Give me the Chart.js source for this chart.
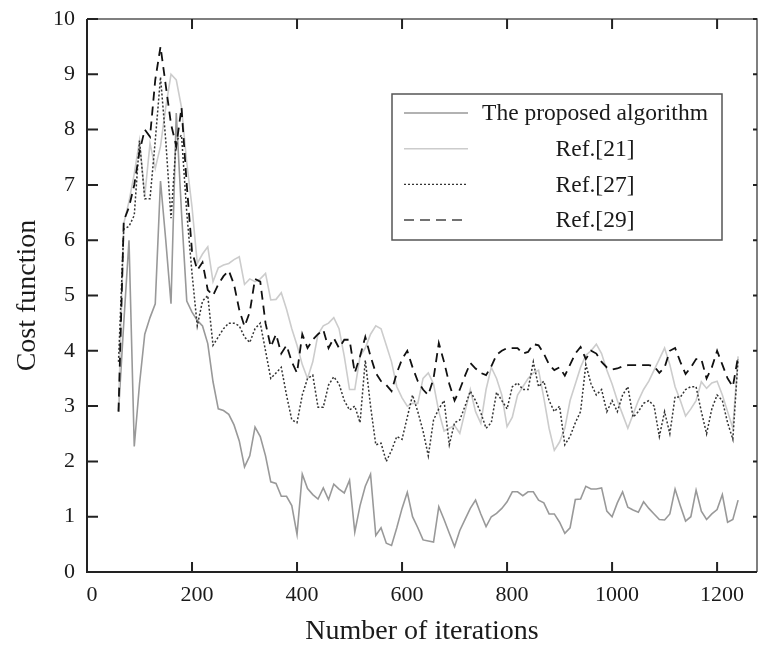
<!DOCTYPE html>
<html>
<head>
<meta charset="utf-8">
<script src="https://cdn.jsdelivr.net/npm/chart.js@4.4.1/dist/chart.umd.min.js"></script>
<style>
  html, body { margin: 0; padding: 0; background: #fff; }
  #wrap { width: 767px; height: 648px; }
</style>
</head>
<body>
<div id="wrap"><canvas id="js--cost"></canvas></div>
<script>
// iteration numbers (x values)
const iterations = [
  60, 70, 80, 90, 100, 110, 120, 130, 140, 150, 160, 170, 180, 190, 200,
  210, 220, 230, 240, 250, 260, 270, 280, 290, 300, 310, 320, 330, 340, 350,
  360, 370, 380, 390, 400, 410, 420, 430, 440, 450, 460, 470, 480, 490, 500,
  510, 520, 530, 540, 550, 560, 570, 580, 590, 600, 610, 620, 630, 640, 650,
  660, 670, 680, 690, 700, 710, 720, 730, 740, 750, 760, 770, 780, 790, 800,
  810, 820, 830, 840, 850, 860, 870, 880, 890, 900, 910, 920, 930, 940, 950,
  960, 970, 980, 990, 1000, 1010, 1020, 1030, 1040, 1050, 1060, 1070, 1080, 1090, 1100,
  1110, 1120, 1130, 1140, 1150, 1160, 1170, 1180, 1190, 1200, 1210, 1220, 1230, 1240
];

const proposed = [
  2.9, 4.5, 6.0, 2.27, 3.4, 4.3, 4.6, 4.85, 7.07, 6.0, 4.85, 8.3, 6.5, 4.9, 4.7,
  4.55, 4.45, 4.13, 3.44, 2.95, 2.92, 2.85, 2.66, 2.37, 1.9, 2.1, 2.62, 2.45, 2.1, 1.63,
  1.6, 1.37, 1.37, 1.2, 0.68, 1.77, 1.51, 1.4, 1.32, 1.52, 1.31, 1.59, 1.5, 1.43, 1.66,
  0.72, 1.2, 1.55, 1.77, 0.66, 0.8, 0.52, 0.48, 0.8, 1.15, 1.44, 1.0, 0.8, 0.58, 0.56,
  0.54, 1.18, 0.95, 0.7, 0.46, 0.75, 0.95, 1.15, 1.3, 1.05, 0.82, 1.0, 1.06, 1.15, 1.27,
  1.45, 1.45, 1.38, 1.45, 1.45, 1.3, 1.25, 1.05, 1.05, 0.9, 0.7, 0.8, 1.31, 1.32, 1.55,
  1.5, 1.5, 1.52, 1.1, 1.0, 1.25, 1.45, 1.17, 1.12, 1.08, 1.27, 1.15, 1.05, 0.95, 0.94,
  1.05, 1.5, 1.2, 0.92, 1.0, 1.48, 1.1, 0.95, 1.05, 1.13, 1.4, 0.9, 0.95, 1.3
];

const ref21 = [
  2.9, 6.3, 6.7, 7.2, 7.8, 6.8, 7.75, 7.3, 7.7, 8.4, 9.0, 8.9, 8.4, 7.4, 6.6,
  5.58, 5.75, 5.88, 5.25, 5.5, 5.55, 5.58, 5.65, 5.7, 5.2, 5.3, 5.25, 5.3, 5.4, 4.92,
  4.93, 5.05, 4.75, 4.4, 4.1, 3.75, 3.5, 3.8, 4.3, 4.45, 4.5, 4.6, 4.4, 3.9, 3.3,
  3.3, 3.9, 4.05, 4.3, 4.45, 4.4, 4.1, 3.8, 3.35, 3.15, 3.0, 3.05, 3.05, 3.5, 3.6,
  3.4, 2.9, 2.55, 2.6, 2.65, 2.51, 2.9, 3.3, 2.9, 2.69, 3.3, 3.7, 3.5, 3.2, 2.63,
  2.8, 3.2, 3.35, 3.5, 3.6, 3.65, 3.15, 2.6, 2.2, 2.35, 2.6, 3.1, 3.4, 3.7, 3.92,
  4.0, 4.12, 3.95, 3.65, 3.4, 3.1, 2.85, 2.6, 2.85, 3.1, 3.3, 3.45, 3.65, 3.85, 4.05,
  3.75, 3.35, 3.1, 2.82, 2.95, 3.1, 3.44, 3.32, 3.42, 3.45, 3.2, 2.9, 2.6, 3.9
];

const ref27 = [
  3.8, 6.2, 6.25, 6.45, 7.8, 6.75, 6.75, 7.8, 8.95, 7.8, 6.4, 7.8, 7.9, 6.5, 5.4,
  4.45, 4.9, 5.0, 4.1, 4.25, 4.4, 4.5, 4.5, 4.45, 4.25, 4.15, 4.4, 4.5, 4.0, 3.5,
  3.6, 3.7, 3.2, 2.75, 2.7, 3.2, 3.5, 3.56, 2.98, 2.98, 3.38, 3.53, 3.4, 3.1, 2.93,
  3.0, 2.7, 3.83, 3.0, 2.3, 2.33, 2.0, 2.2, 2.45, 2.4, 2.8, 3.2, 2.9, 2.55, 2.1,
  2.75, 2.95, 3.1, 2.3, 2.7, 2.75, 3.0, 3.27, 3.1, 2.88, 2.6, 2.7, 3.25, 3.1, 2.95,
  3.35, 3.42, 3.3, 3.3, 3.8, 3.35, 3.45, 3.1, 2.9, 3.0, 2.3, 2.45, 2.7, 2.9, 3.75,
  3.4, 3.2, 3.3, 2.9, 3.1, 2.9, 3.2, 3.35, 2.8, 2.9, 3.05, 3.1, 3.0, 2.45, 2.9,
  2.5, 3.17, 3.16, 3.3, 3.35, 3.35, 2.9, 2.5, 2.95, 3.2, 3.1, 2.7, 2.4, 3.85
];

const ref29 = [
  2.9, 6.35, 6.6, 7.0, 7.6, 8.0, 7.87, 8.9, 9.5, 8.8, 8.1, 7.7, 8.4, 7.0, 5.8,
  5.46, 5.6, 5.1, 5.0, 5.2, 5.35, 5.45, 5.2, 4.74, 4.44, 4.7, 5.3, 5.25, 4.5, 4.07,
  4.3, 3.95, 4.1, 3.8, 3.6, 4.3, 4.05, 4.2, 4.3, 4.38, 4.05, 4.23, 4.05, 4.2, 4.2,
  3.6, 3.9, 4.25, 3.9, 3.6, 3.45, 3.38, 3.27, 3.6, 3.85, 4.0, 3.7, 3.45, 3.3, 3.2,
  3.5, 4.14, 3.8, 3.4, 3.1, 3.3, 3.55, 3.78, 3.68, 3.6, 3.56, 3.72, 3.93, 4.0, 4.05,
  4.05, 4.05, 3.95, 3.98, 4.12, 4.1, 3.95, 3.75, 3.65, 3.7, 3.55, 3.75, 3.95, 4.07, 3.85,
  4.0, 3.95, 3.8, 3.7, 3.66, 3.68, 3.72, 3.74, 3.74, 3.74, 3.74, 3.74, 3.72, 3.6, 3.7,
  4.0, 4.05, 3.8, 3.58, 3.7, 3.85, 3.85, 3.5, 3.7, 4.0, 3.75, 3.5, 3.35, 3.9
];

const seriesNames = ['The proposed algorithm', 'Ref.[21]', 'Ref.[27]', 'Ref.[29]'];
const xTicks = [0, 200, 400, 600, 800, 1000, 1200];
const yTicks = [0, 1, 2, 3, 4, 5, 6, 7, 8, 9, 10];

const serif = '"Liberation Serif", "Times New Roman", serif';

function pairs(vals) {
  return vals.map((v, i) => ({ x: iterations[i], y: v }));
}

const styles = [
  { color: '#999999', dash: [], width: 1.6, order: 4 },
  { color: '#cccccc', dash: [], width: 1.6, order: 3 },
  { color: '#333333', dash: [2, 2], width: 1.5, order: 2 },
  { color: '#111111', dash: [9, 6], width: 1.8, order: 1 }
];

const allData = [proposed, ref21, ref27, ref29];

const datasets = allData.map((vals, i) => ({
  label: seriesNames[i],
  data: pairs(vals),
  borderColor: styles[i].color,
  borderDash: styles[i].dash,
  borderWidth: styles[i].width,
  pointRadius: 0,
  tension: 0,
  fill: false,
  order: styles[i].order
}));

// frame, inward tick marks and the boxed legend
const framePlugin = {
  id: 'frame',
  afterDraw(chart) {
    const ctx = chart.ctx;
    const a = chart.chartArea;
    const xs = chart.scales.x;
    const ys = chart.scales.y;
    ctx.save();
    // top + right border (grey)
    ctx.strokeStyle = '#555';
    ctx.lineWidth = 1.5;
    ctx.beginPath();
    ctx.moveTo(a.left, a.top);
    ctx.lineTo(a.right, a.top);
    ctx.lineTo(a.right, a.bottom);
    ctx.stroke();
    // left + bottom (dark)
    ctx.strokeStyle = '#222';
    ctx.lineWidth = 2;
    ctx.beginPath();
    ctx.moveTo(a.left, a.top);
    ctx.lineTo(a.left, a.bottom);
    ctx.lineTo(a.right, a.bottom);
    ctx.stroke();

    ctx.lineWidth = 2;
    xTicks.forEach(t => {
      const px = xs.getPixelForValue(t);
      ctx.beginPath();
      ctx.moveTo(px, a.bottom);
      ctx.lineTo(px, a.bottom - 10);
      ctx.moveTo(px, a.top);
      ctx.lineTo(px, a.top + 10);
      ctx.stroke();
    });
    yTicks.forEach(t => {
      const py = ys.getPixelForValue(t);
      ctx.beginPath();
      ctx.moveTo(a.left, py);
      ctx.lineTo(a.left + 11, py);
      ctx.moveTo(a.right, py);
      ctx.lineTo(a.right - 4, py);
      ctx.stroke();
    });

    // legend box
    const bx = a.left + 305, by = a.top + 75, bw = 330, bh = 146;
    ctx.strokeStyle = '#555';
    ctx.lineWidth = 1.5;
    ctx.strokeRect(bx, by, bw, bh);
    ctx.font = '23.5px ' + serif;
    ctx.fillStyle = '#1a1a1a';
    ctx.textAlign = 'center';
    ctx.textBaseline = 'middle';
    seriesNames.forEach((name, i) => {
      const ly = by + 19 + i * 35.7;
      ctx.strokeStyle = i === 3 ? '#444' : styles[i].color;
      ctx.setLineDash(i === 3 ? [10, 6] : styles[i].dash);
      ctx.lineWidth = i === 2 ? 1.2 : 1.5;
      ctx.beginPath();
      ctx.moveTo(bx + 12, ly);
      ctx.lineTo(bx + 76, ly);
      ctx.stroke();
      ctx.setLineDash([]);
      ctx.fillText(name, bx + 203, ly + 1);
    });
    ctx.restore();
  }
};

const config = {
  type: 'line',
  data: { datasets: datasets },
  options: {
    responsive: false,
    animation: false,
    layout: { padding: { left: 0, right: 10, top: 19, bottom: 0 } },
    plugins: { legend: { display: false }, tooltip: { enabled: false } },
    scales: {
      x: {
        type: 'linear',
        min: 0,
        max: 1276,
        afterBuildTicks(scale) { scale.ticks = xTicks.map(v => ({ value: v })); },
        afterFit(scale) {
          scale.height = 76;
          scale.paddingLeft = 0;
          scale.paddingRight = 0;
        },
        grid: { display: false, drawTicks: false },
        border: { display: false },
        ticks: {
          padding: 10,
          labelOffset: 5,
          color: '#1a1a1a',
          font: { family: serif, size: 22 },
          maxRotation: 0,
          callback: v => String(v)
        },
        title: {
          display: true,
          text: 'Number of iterations',
          color: '#1a1a1a',
          font: { family: serif, size: 28 },
          padding: { top: 0, bottom: 0 }
        }
      },
      y: {
        min: 0,
        max: 10,
        afterBuildTicks(scale) { scale.ticks = yTicks.map(v => ({ value: v })); },
        afterFit(scale) {
          scale.width = 87;
          scale.paddingTop = 0;
          scale.paddingBottom = 0;
        },
        grid: { display: false, drawTicks: false },
        border: { display: false },
        ticks: {
          padding: 12,
          color: '#1a1a1a',
          font: { family: serif, size: 22 },
          callback: v => String(v)
        },
        title: {
          display: true,
          text: 'Cost function',
          color: '#1a1a1a',
          font: { family: serif, size: 28 },
          padding: { top: 11, bottom: 0 }
        }
      }
    }
  },
  plugins: [framePlugin]
};

const canvas = document.getElementById('js--cost');
canvas.width = 767;
canvas.height = 648;
const chart1 = new Chart(canvas, config);
</script>
</body>
</html>
